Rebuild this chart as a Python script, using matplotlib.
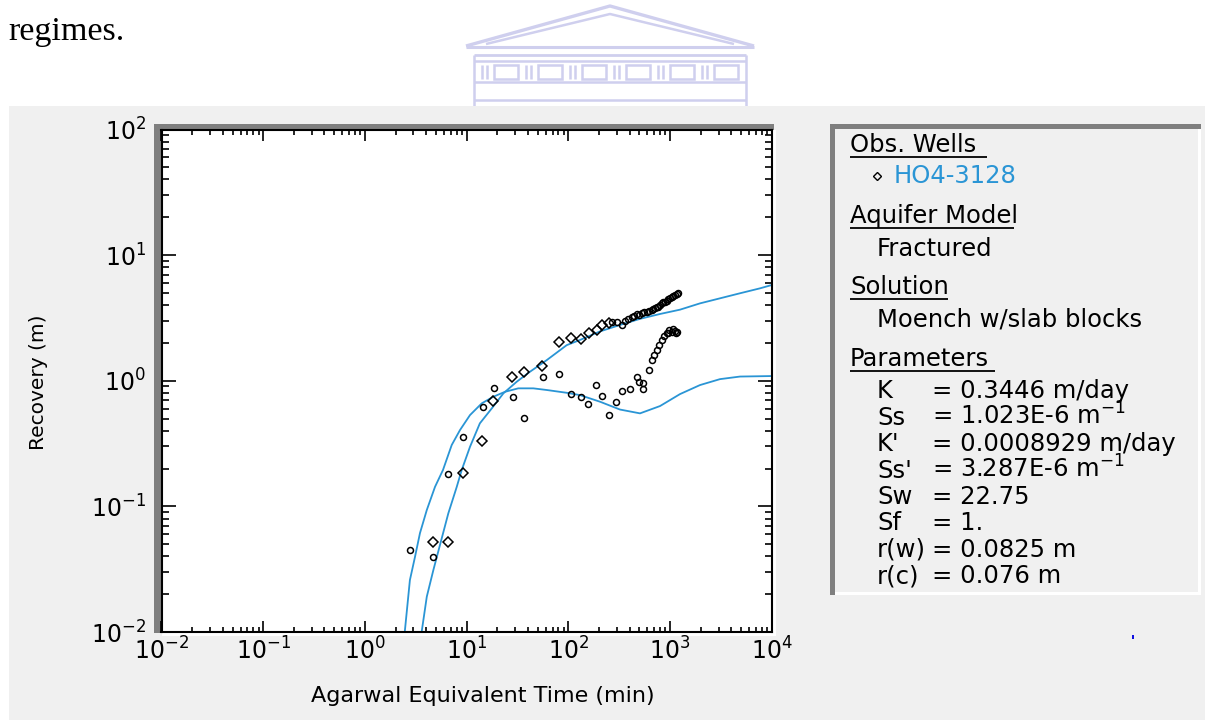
import math
import matplotlib
matplotlib.use("Agg")
import matplotlib.pyplot as plt
from matplotlib.patches import Rectangle
from matplotlib.lines import Line2D
from matplotlib.ticker import LogLocator, FuncFormatter, NullFormatter

# ---------------------------------------------------------------- data
# observations drawn with the larger open diamond
t_diam = [4.64, 6.56, 9.29, 14.3, 18.3, 27.9, 36.4, 55.7, 81.0, 106, 134, 159, 190, 213, 253]
s_diam = [0.052, 0.052, 0.186, 0.331, 0.686, 1.07, 1.17, 1.31, 2.03, 2.19, 2.14, 2.41, 2.54, 2.78, 2.89]

# observations drawn with the small open circle
t_circ = [2.78, 4.64, 6.56, 9.16, 14.4, 18.4, 28.4, 36.4, 56.0, 81.8,
          269, 299, 335, 361, 389, 420, 443, 471, 495, 527, 555, 590, 622, 661, 681,
          713, 745, 768, 798, 828, 853, 893, 934, 962, 1000, 1040, 1072, 1120, 1172, 1208,
          106, 132, 157, 186, 213, 250, 297, 340, 404, 476, 495, 546, 546, 626, 661,
          701, 750, 785, 828, 873, 928, 955, 978, 1040, 1072, 1120, 1146, 1180]
s_circ = [0.0449, 0.0397, 0.181, 0.358, 0.618, 0.875, 0.738, 0.507, 1.07, 1.13,
          2.93, 2.92, 2.78, 2.99, 3.08, 3.24, 3.27, 3.38, 3.33, 3.48, 3.52, 3.54, 3.62, 3.65, 3.73,
          3.77, 3.83, 3.88, 4.01, 4.13, 4.20, 4.26, 4.35, 4.45, 4.52, 4.61, 4.72, 4.81, 4.90, 4.96,
          0.78, 0.738, 0.656, 0.924, 0.759, 0.538, 0.677, 0.828, 0.855, 1.08, 0.977, 0.953, 0.859, 1.22, 1.47,
          1.60, 1.75, 1.92, 2.11, 2.28, 2.38, 2.40, 2.53, 2.46, 2.58, 2.50, 2.40, 2.46]

# fitted type curves
t_fit_upper = [3.58, 4.06, 4.71, 5.47, 6.61, 8.00, 8.96, 10.8, 13.5, 17.7, 23.0, 31.1, 42.0,
               61.4, 96.4, 130, 205, 322, 507, 798, 1254, 1972, 3100, 4880, 7670, 10000]
s_fit_upper = [0.0095, 0.0191, 0.0311, 0.0492, 0.0880, 0.143, 0.195, 0.298, 0.458, 0.603, 0.794,
               0.982, 1.18, 1.46, 1.92, 2.11, 2.47, 2.78, 3.11, 3.40, 3.68, 4.13, 4.53, 4.97, 5.44, 5.78]

t_fit_lower = [2.45, 2.77, 3.11, 3.48, 4.06, 4.89, 5.86, 7.14, 8.61, 10.8, 14.1, 18.3, 23.9,
               32.2, 45.3, 61.4, 96.4, 130, 205, 322, 507, 798, 1254, 1972, 3100, 4880, 10000]
s_fit_lower = [0.0095, 0.0259, 0.0397, 0.0613, 0.0935, 0.143, 0.195, 0.308, 0.405, 0.533, 0.661,
               0.746, 0.817, 0.870, 0.870, 0.844, 0.802, 0.769, 0.681, 0.590, 0.550, 0.629, 0.783,
               0.924, 1.03, 1.08, 1.09]

well_name = "HO4-3128"
aquifer_model = "Fractured"
solution_name = "Moench w/slab blocks"
param_names = ["K", "Ss", "K'", "Ss'", "Sw", "Sf", "r(w)", "r(c)"]
param_values = ["0.3446 m/day", r"1.023E-6 m$^{\mathregular{-1}}$", "0.0008929 m/day",
                r"3.287E-6 m$^{\mathregular{-1}}$", "22.75", "1.", "0.0825 m", "0.076 m"]

# ---------------------------------------------------------------- style
W, H = 1205, 720
BLUE = "#2a95d5"
PANEL = "#f0f0f0"
SHADE = "#7f7f7f"
plt.rcParams["font.family"] = ["DejaVu Sans"]
plt.rcParams["mathtext.fontset"] = "dejavusans"

fig = plt.figure(figsize=(W / 100, H / 100), dpi=100)
fig.patch.set_facecolor("white")


def fx(px):
    return px / W


def fy(py):
    return 1 - py / H


def frect(x0, y0, x1, y1, color, z):
    fig.patches.append(Rectangle((fx(x0), fy(y1)), fx(x1) - fx(x0), fy(y0) - fy(y1),
                                 transform=fig.transFigure, facecolor=color,
                                 edgecolor="none", zorder=z))


def fline(xs, ys, color, lw, z=-3):
    fig.lines.append(Line2D([fx(v) for v in xs], [fy(v) for v in ys], transform=fig.transFigure,
                            color=color, lw=lw, zorder=z, solid_capstyle="butt"))


# running text of the page above the figure
fig.text(fx(8), fy(40), "regimes.", family="Liberation Serif", fontsize=24.5,
         ha="left", va="baseline", color="black")

# faint crest behind the figure
LOGO = "#cfcfee"
fline([466, 610, 754], [46, 6, 46], LOGO, 2.4)
fline([486, 610, 734], [44, 14, 44], LOGO, 1.8)
fline([466, 754], [47, 47], LOGO, 2.2)
fline([474, 746], [55, 55], LOGO, 2.0)
fline([474, 746], [61, 61], LOGO, 1.8)
fline([474, 746], [82, 82], LOGO, 1.8)
fline([474, 474], [55, 106], LOGO, 1.8)
fline([746, 746], [55, 106], LOGO, 1.8)
fline([474, 746], [100, 100], LOGO, 1.8)
for k in range(6):
    x0 = 482 + k * 44
    fline([x0, x0], [65, 79], LOGO, 1.8)
    fline([x0 + 5, x0 + 5], [65, 79], LOGO, 1.8)
    fig.patches.append(Rectangle((fx(x0 + 12), fy(79)), fx(24), fy(65) - fy(79),
                                 transform=fig.transFigure, facecolor="none",
                                 edgecolor=LOGO, lw=1.8, zorder=-3))

# grey application panel
frect(9, 106, W, H, PANEL, -2)

# sunken frame around the plot area
AX_L, AX_R, AX_T, AX_B = 161.5, 771.7, 129.5, 632.0
frect(154, 124, AX_R + 2, AX_T, SHADE, -1)
frect(154, 124, AX_L, AX_B + 1, SHADE, -1)
frect(AX_L, AX_B, AX_R + 4, AX_B + 4, "white", -1)
frect(AX_R, AX_T, AX_R + 4, AX_B + 4, "white", -1)

# legend panel with the same sunken frame
LG_L, LG_R, LG_T, LG_B = 830, 1201, 124, 595
frect(LG_L, LG_T, LG_R, LG_B, PANEL, -1)
frect(LG_L, LG_T, LG_R, LG_T + 5, SHADE, -1)
frect(LG_L, LG_T, LG_L + 5, LG_B, SHADE, -1)
frect(LG_R - 3, LG_T + 5, LG_R, LG_B, "white", -1)
frect(LG_L + 5, LG_B - 3, LG_R, LG_B, "white", -1)

# stray blue pixel on the panel
frect(1132, 635, 1134, 639, "#1010e0", -1)

# ---------------------------------------------------------------- axes
ax = fig.add_axes([fx(AX_L), fy(AX_B), fx(AX_R) - fx(AX_L), fy(AX_T) - fy(AX_B)])
ax.set_zorder(1)
ax.set_facecolor("white")
ax.set_xscale("log")
ax.set_yscale("log")
ax.set_xlim(1e-2, 1e4)
ax.set_ylim(1e-2, 1e2)

ax.plot(t_fit_upper, s_fit_upper, color=BLUE, lw=1.3, zorder=2)
ax.plot(t_fit_lower, s_fit_lower, color=BLUE, lw=1.3, zorder=2)
ax.plot(t_circ, s_circ, ls="none", marker="o", ms=4.3, mfc="none", mec="black", mew=1.1, zorder=3)
ax.plot(t_diam, s_diam, ls="none", marker="D", ms=5.2, mfc="none", mec="black", mew=1.1, zorder=3)

for sp in ax.spines.values():
    sp.set_color("black")
    sp.set_linewidth(1.5)

dec_fmt = FuncFormatter(lambda v, p: r"$\mathregular{10^{%d}}$" % round(math.log10(v)))
for axis in (ax.xaxis, ax.yaxis):
    axis.set_major_locator(LogLocator(base=10, numticks=20))
    axis.set_minor_locator(LogLocator(base=10, subs=range(2, 10), numticks=20))
    axis.set_major_formatter(dec_fmt)
    axis.set_minor_formatter(NullFormatter())

ax.tick_params(axis="both", which="both", direction="in", top=True, right=True,
               width=1.2, color="black", labelsize=17, labelcolor="black")
ax.tick_params(axis="x", which="major", length=8, pad=4)
ax.tick_params(axis="x", which="minor", length=3.6)
ax.tick_params(axis="y", which="major", length=10, pad=11)
ax.tick_params(axis="y", which="minor", length=5)

ax.set_xlabel("Agarwal Equivalent Time (min)", fontsize=16)
ax.set_ylabel("Recovery (m)", fontsize=14.5)
ax.xaxis.label.set_va("center")
ax.yaxis.label.set_va("center")
ax.xaxis.set_label_coords((482.5 - AX_L) / (AX_R - AX_L), -(696 - AX_B) / (AX_B - AX_T))
ax.yaxis.set_label_coords(-(AX_L - 38) / (AX_R - AX_L), (AX_B - 382.5) / (AX_B - AX_T))

# ---------------------------------------------------------------- legend text
LFS = 17.5


def heading(y, text, x1):
    fig.text(fx(850), fy(y), text, fontsize=LFS, ha="left", va="baseline")
    fline([850, x1], [y + 5, y + 5], "black", 1.3, z=2)


heading(152, "Obs. Wells", 987)
fig.lines.append(Line2D([fx(877)], [fy(176)], transform=fig.transFigure, marker="D", ms=3.6,
                        mfc="none", mec="black", mew=1.0, ls="none", zorder=2))
fig.text(fx(894), fy(183), well_name, fontsize=LFS, color=BLUE, ha="left", va="baseline")

heading(222.5, "Aquifer Model", 1014)
fig.text(fx(877), fy(255.5), aquifer_model, fontsize=LFS, ha="left", va="baseline")

heading(294, "Solution", 948)
fig.text(fx(877), fy(327), solution_name, fontsize=LFS, ha="left", va="baseline")

heading(366, "Parameters", 995)
for i, (name, val) in enumerate(zip(param_names, param_values)):
    yb = 398.3 + i * 26.4
    fig.text(fx(877), fy(yb), name, fontsize=LFS, ha="left", va="baseline")
    fig.text(fx(932), fy(yb), "= " + val, fontsize=LFS, ha="left", va="baseline")

fig.savefig("out.png", dpi=100, facecolor="white")
